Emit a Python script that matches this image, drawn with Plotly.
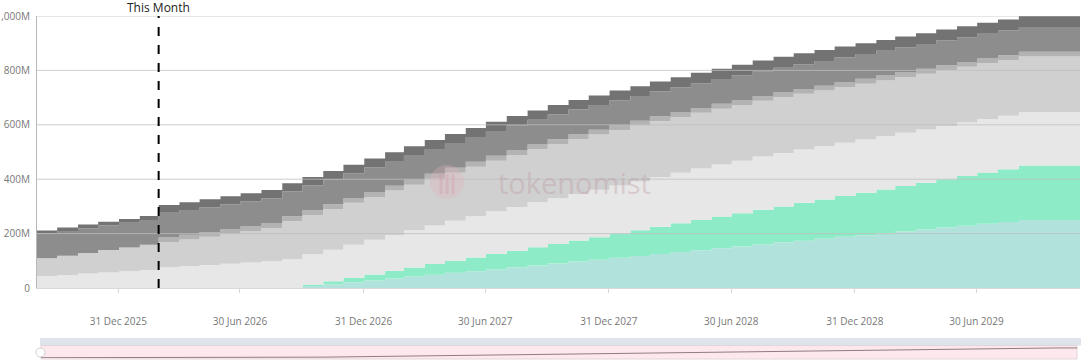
import pandas as pd
import plotly.graph_objects as go

# ---------------- data (values in millions of tokens, monthly steps) ----------------
months = pd.date_range("2025-09-01", periods=52, freq="MS")

teal = [0, 0, 0, 0, 0, 0, 0, 0, 0, 0, 0, 0, 0,
        7, 14, 21, 28, 35, 42, 49, 56, 62, 69, 76, 83, 90, 97, 104, 111, 118, 125,
        132, 139, 146, 153, 160, 167, 174, 181, 188, 194, 201, 208, 215, 222, 229,
        236, 243, 250, 250, 250, 250]
green = [0, 0, 0, 0, 0, 0, 0, 0, 0, 0, 0, 0, 0,
         6, 11, 17, 22, 28, 33, 39, 44, 50, 56, 61, 67, 72, 78, 83, 89, 94, 100,
         106, 111, 117, 122, 128, 133, 139, 144, 150, 156, 161, 167, 172, 178, 183,
         189, 194, 200, 200, 200, 200]
very_light = [44, 48, 53, 57, 62, 66, 76, 80, 85, 89, 94, 98, 106, 111, 116, 121,
              127, 132, 137, 142, 147, 152, 157, 161, 165, 168, 171, 174, 177, 180,
              183, 186, 189, 191, 193, 195, 196, 196, 196, 196, 196, 196, 196, 196,
              196, 196, 196, 196, 196, 196, 196, 196]
light = [65, 71, 76, 83, 87, 93, 92, 98, 103, 110, 116, 123, 140, 144, 149, 154,
         158, 163, 168, 172, 177, 182, 186, 191, 195, 199, 201, 203, 204, 205, 205,
         205, 205, 205, 205, 205, 205, 205, 205, 205, 205, 205, 205, 205, 205, 205,
         205, 205, 205, 205, 205, 205]
mid_light = [0, 0, 0, 0, 0, 0, 18, 18, 18, 18, 18, 18, 18, 18, 18, 18, 18, 18, 18,
             18, 18, 18, 18, 18, 18, 18, 18, 18, 18, 18, 18, 18, 18, 18, 18, 18, 18,
             18, 18, 18, 18, 18, 18, 18, 18, 18, 18, 18, 18, 18, 18, 18]
medium = [91, 91, 91, 91, 91, 91, 91, 91, 91, 91, 91, 91, 91, 91, 91, 91, 91, 91,
          91, 91, 91, 91, 91, 91, 91, 91, 91, 91, 91, 91, 91, 91, 91, 91, 91, 91,
          91, 91, 91, 91, 91, 91, 91, 91, 91, 91, 91, 91, 91, 91, 91, 91]
dark = [11, 12, 13, 13, 14, 15, 28, 28, 29, 29, 29, 30, 30, 31, 31, 31, 32, 32, 32,
        33, 33, 33, 34, 34, 34, 35, 35, 35, 36, 36, 37, 37, 38, 38, 39, 39, 40, 40,
        40, 40, 40, 40, 40, 40, 40, 40, 40, 40, 40, 40, 40, 40]

series = [
    ("Allocation A", teal, "#b1e3dc"),
    ("Allocation B", green, "#8decc7"),
    ("Allocation C", very_light, "#e7e7e7"),
    ("Allocation D", light, "#d0d0d0"),
    ("Allocation E", mid_light, "#b3b3b3"),
    ("Allocation F", medium, "#8d8d8d"),
    ("Allocation G", dark, "#737373"),
]

y_ticks = [0, 200, 400, 600, 800, 1000]
y_tick_text = ["0", "200M", "400M", "600M", "800M", "1,000M"]
x_ticks = ["2025-12-31", "2026-06-30", "2026-12-31", "2027-06-30",
           "2027-12-31", "2028-06-30", "2028-12-31", "2029-06-30"]
this_month = "2026-03-01"
x_range = ["2025-09-01", "2029-12-01"]

# ---------------- figure ----------------
W, H = 1081, 364
ML, MR, MT, MB = 37, 1, 16, 4
plot_h = H - MT - MB
plot_w = W - ML - MR


def py(px):  # pixel y (from top) -> paper y
    return (H - MB - px) / plot_h


def pxx(px):  # pixel x -> paper x
    return (px - ML) / plot_w


fig = go.Figure()
for name, vals, col in series:
    fig.add_trace(go.Scatter(
        x=months, y=vals, name=name, stackgroup="s", mode="lines",
        line=dict(width=0, shape="hv", color=col), fillcolor=col,
        hoverinfo="skip", showlegend=False,
    ))

# data-zoom shadow line (first series) in the slider strip
fig.add_trace(go.Scatter(
    x=months, y=teal, mode="lines", xaxis="x2", yaxis="y2",
    line=dict(width=1, color="rgba(125,105,110,0.85)"),
    hoverinfo="skip", showlegend=False,
))

font_family = "Open Sans, Noto Sans, sans-serif"

fig.update_layout(
    width=W, height=H,
    margin=dict(l=ML, r=MR, t=MT, b=MB, autoexpand=False),
    paper_bgcolor="white", plot_bgcolor="white",
    font=dict(family=font_family, size=10, color="#777"),
    xaxis=dict(
        domain=[0, 1], range=x_range, type="date",
        tickvals=x_ticks, tickformat="%d %b %Y",
        showgrid=False, showline=True, linecolor="#d8d8d8", linewidth=1,
        ticks="outside", ticklen=4, tickcolor="#d8d8d8",
        ticklabelstandoff=20, zeroline=False, anchor="y", automargin=False,
        tickfont=dict(size=10, color="#777"),
    ),
    yaxis=dict(
        domain=[py(288), 1], range=[0, 1000],
        tickvals=y_ticks, ticktext=y_tick_text,
        showgrid=False, zeroline=False,
        showline=True, linecolor="#b8b8b8", linewidth=1,
        ticks="", ticklabelstandoff=4, anchor="x", automargin=False,
        tickfont=dict(size=10, color="#777"),
    ),
    xaxis2=dict(domain=[pxx(41), pxx(1077)], range=x_range, type="date",
                visible=False, anchor="y2", automargin=False),
    yaxis2=dict(domain=[py(358), py(346)], range=[-8, 300],
                visible=False, anchor="x2", automargin=False),
)

shapes = []
# gridlines drawn over the areas
for v in y_ticks[1:]:
    shapes.append(dict(type="line", xref="paper", yref="y", x0=0, x1=1, y0=v, y1=v,
                       line=dict(color="rgba(190,190,190,0.75)", width=1), layer="above"))
# this-month marker
shapes.append(dict(type="line", xref="x", yref="y", x0=this_month, x1=this_month,
                   y0=0, y1=1000, line=dict(color="black", width=2, dash="dash"),
                   layer="above"))
# data zoom slider
shapes.append(dict(type="rect", xref="paper", yref="paper",
                   x0=pxx(40), x1=pxx(1081), y0=py(345.5), y1=py(338),
                   fillcolor="#dfe4ec", line=dict(width=0), layer="below"))
shapes.append(dict(type="rect", xref="paper", yref="paper",
                   x0=pxx(41), x1=pxx(1077), y0=py(359), y1=py(345.5),
                   fillcolor="#fde9ed", line=dict(color="#e3d6da", width=1), layer="below"))
shapes.append(dict(type="circle", xref="paper", yref="paper",
                   x0=pxx(36), x1=pxx(45), y0=py(357), y1=py(348),
                   fillcolor="white", line=dict(color="#d0d0d0", width=1)))
# watermark logo
shapes.append(dict(type="circle", xref="paper", yref="paper",
                   x0=pxx(430), x1=pxx(464), y0=py(199), y1=py(165),
                   fillcolor="rgba(225,175,185,0.30)", line=dict(width=0), layer="above"))
for bx in (441, 447, 453):
    shapes.append(dict(type="rect", xref="paper", yref="paper",
                       x0=pxx(bx - 1.5), x1=pxx(bx + 1.5), y0=py(194), y1=py(174),
                       fillcolor="rgba(205,150,160,0.30)", line=dict(width=0), layer="above"))
fig.update_layout(shapes=shapes)

fig.add_annotation(x=this_month, xref="x", y=py(8), yref="paper",
                   text="This Month", showarrow=False, yanchor="middle",
                   font=dict(family=font_family, size=12, color="#222"))
fig.add_annotation(x=pxx(574), xref="paper", y=py(182), yref="paper",
                   text="tokenomist", showarrow=False, yanchor="middle",
                   font=dict(family=font_family, size=29, color="rgba(185,150,158,0.35)"))

fig.write_html("out.html",
               config={"displayModeBar": False},
               post_script="document.body.style.margin='0px';"
                           "document.body.style.overflow='hidden';")
